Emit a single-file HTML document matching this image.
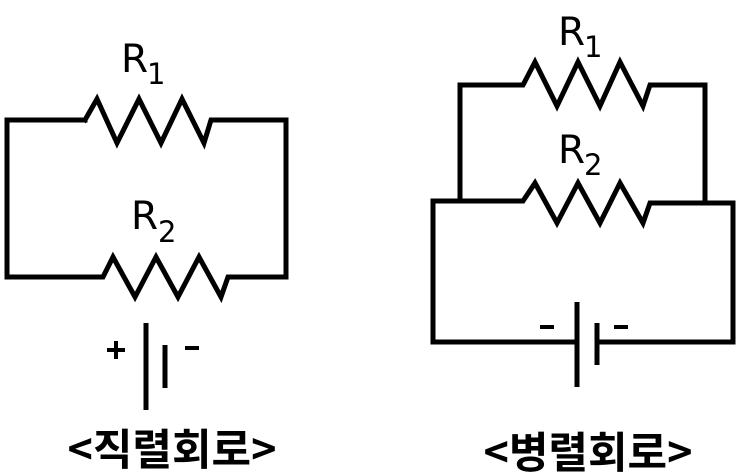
<!DOCTYPE html>
<html><head><meta charset="utf-8"><style>
html,body{margin:0;padding:0;background:#fff;}
svg{display:block;}
text{font-family:"DejaVu Sans","Liberation Sans","Noto Sans CJK KR",sans-serif;fill:#000;}
.k{font-family:"Noto Sans CJK KR","NanumGothic",sans-serif;font-weight:bold;}
</style></head><body>
<svg width="743" height="474" viewBox="0 0 743 474" xmlns="http://www.w3.org/2000/svg">
<g fill="none" stroke="#000" stroke-width="5" stroke-linejoin="miter" stroke-linecap="square">
<polyline points="85,120 7,120 7,277 103,277 113,257 135,297 156,257 178,297 199,257 221,297 228,277 286,277 286,120 211,120 204,143 182,99 161,143 139,99 117,143 97,99 85,120"/>
<line x1="146" y1="323" x2="146" y2="410" stroke-linecap="butt"/>
<line x1="165" y1="345" x2="165" y2="388" stroke-linecap="butt"/>
<polyline points="460,200 460,85 523,85 535,62 557,106 578,62 600,106 620,62 643,106 650,85 705,85 705,203"/>
<polyline points="577,342 433,342 433,201 523,201 535,183 557,223 578,183 600,223 620,183 643,223 650,203 733,203 733,342 597,342"/>
<line x1="577" y1="302" x2="577" y2="387" stroke-linecap="butt"/>
<line x1="597" y1="323" x2="597" y2="365" stroke-linecap="butt"/>
</g>
<text x="121" y="72" font-size="39">R</text><text x="147" y="84" font-size="29">1</text>
<text x="131" y="229" font-size="39">R</text><text x="158" y="242" font-size="29">2</text>
<text x="558" y="45" font-size="39">R</text><text x="584" y="57" font-size="29">1</text>
<text x="558" y="163" font-size="39">R</text><text x="584" y="175" font-size="29">2</text>
<rect x="107" y="348" width="18" height="4"/>
<rect x="114" y="341" width="4" height="18"/>
<rect x="185" y="346" width="14" height="4"/>
<rect x="540" y="325" width="14" height="4"/>
<rect x="614" y="325" width="14" height="4"/>
<text class="k" x="172" y="465" font-size="43" text-anchor="middle">&lt;직렬회로&gt;</text>
<text class="k" x="588" y="468" font-size="43" text-anchor="middle">&lt;병렬회로&gt;</text>
</svg>
</body></html>
